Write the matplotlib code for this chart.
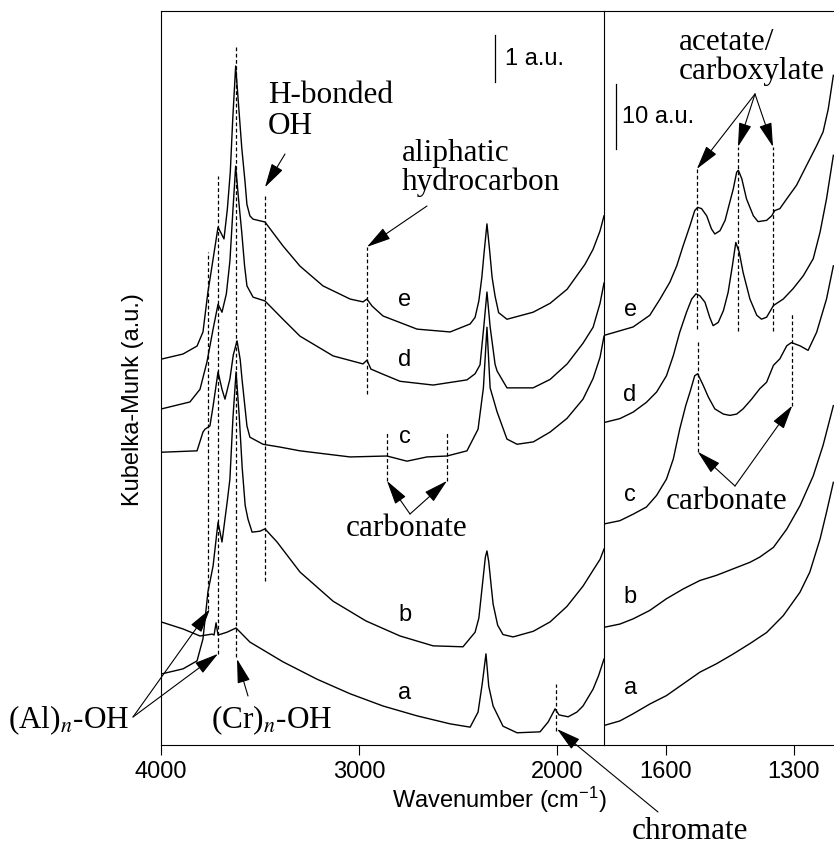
import matplotlib
matplotlib.use("Agg")
import matplotlib.pyplot as plt

# ---- spectra (wavenumber cm-1, Kubelka-Munk a.u.) ----
# high-wavenumber panel
A_LEFT = [(4000, 2.62), (3889, 2.47), (3803, 2.32), (3742, 2.36), (3732, 2.34),
          (3722, 2.60), (3712, 2.34), (3667, 2.40), (3621, 2.49), (3551, 2.19),
          (3384, 1.77), (3212, 1.40), (3045, 1.09), (2879, 0.83), (2707, 0.62),
          (2540, 0.45), (2439, 0.38), (2399, 0.70), (2378, 1.30), (2359, 1.94),
          (2345, 1.25), (2323, 0.83), (2273, 0.40), (2202, 0.26), (2086, 0.28),
          (2045, 0.49), (2010, 0.77), (1990, 0.64), (1944, 0.60), (1900, 0.70),
          (1869, 0.83), (1818, 1.19), (1790, 1.48), (1763, 1.83)]
B_LEFT = [(4000, 1.51), (3889, 1.62), (3818, 1.79), (3788, 2.26), (3763, 3.26),
          (3737, 3.81), (3712, 4.74), (3692, 4.32), (3665, 5.20), (3652, 5.66),
          (3637, 6.94), (3621, 7.94), (3605, 7.00), (3590, 5.90), (3575, 5.10),
          (3561, 4.81), (3540, 4.53), (3500, 4.55), (3475, 4.60), (3414, 4.32),
          (3298, 3.68), (3131, 3.06), (2965, 2.64), (2793, 2.32), (2626, 2.11),
          (2475, 2.09), (2414, 2.40), (2395, 2.70), (2374, 3.53), (2362, 4.00),
          (2354, 4.13), (2345, 3.90), (2333, 3.40), (2323, 3.00), (2300, 2.55),
          (2273, 2.35), (2222, 2.30), (2120, 2.42), (2035, 2.62), (1950, 2.95),
          (1869, 3.38), (1818, 3.72), (1783, 3.95), (1763, 4.17)]
C_LEFT = [(4000, 6.23), (3818, 6.26), (3788, 6.66), (3778, 6.72), (3753, 6.79),
          (3737, 7.21), (3712, 7.94), (3692, 7.57), (3677, 7.36), (3652, 7.79),
          (3635, 8.30), (3616, 8.60), (3600, 8.20), (3591, 7.79), (3566, 6.79),
          (3551, 6.55), (3485, 6.40), (3399, 6.34), (3298, 6.26), (3045, 6.13),
          (2859, 6.15), (2758, 6.04), (2657, 6.13), (2556, 6.15), (2455, 6.26),
          (2399, 6.72), (2372, 7.60), (2354, 8.89), (2338, 7.60), (2303, 7.09),
          (2253, 6.51), (2202, 6.40), (2120, 6.45), (2035, 6.66), (1950, 6.95),
          (1869, 7.36), (1818, 7.80), (1783, 8.25), (1763, 8.70)]
D_LEFT = [(4000, 7.15), (3854, 7.30), (3803, 7.57), (3768, 8.15), (3737, 8.85),
          (3712, 9.38), (3692, 9.21), (3670, 9.60), (3652, 10.30), (3638, 11.30),
          (3623, 12.32), (3608, 11.60), (3592, 10.90), (3578, 10.20), (3566, 9.77),
          (3535, 9.53), (3475, 9.45), (3384, 9.06), (3298, 8.70), (3131, 8.28),
          (2980, 8.11), (2960, 8.19), (2940, 8.00), (2879, 7.89), (2793, 7.74),
          (2626, 7.66), (2455, 7.77), (2414, 7.90), (2389, 8.09), (2370, 8.90),
          (2354, 9.64), (2338, 8.90), (2313, 8.10), (2303, 7.96), (2253, 7.60),
          (2121, 7.60), (2035, 7.78), (1949, 8.11), (1869, 8.55), (1818, 8.89),
          (1783, 9.40), (1763, 9.83)]
E_LEFT = [(4000, 8.21), (3889, 8.32), (3818, 8.49), (3788, 8.79), (3763, 9.64),
          (3737, 10.34), (3712, 11.02), (3682, 10.77), (3665, 11.40), (3650, 12.20),
          (3638, 13.30), (3623, 14.45), (3608, 13.60), (3592, 12.70), (3576, 12.00),
          (3566, 11.50), (3551, 11.26), (3535, 11.19), (3475, 11.13), (3384, 10.62),
          (3298, 10.19), (3182, 9.77), (3045, 9.49), (2980, 9.43), (2960, 9.49),
          (2934, 9.34), (2879, 9.13), (2707, 8.85), (2540, 8.79), (2439, 8.96),
          (2414, 9.10), (2395, 9.45), (2380, 9.95), (2368, 10.50), (2354, 11.09),
          (2340, 10.50), (2328, 9.95), (2313, 9.55), (2295, 9.20), (2253, 9.06),
          (2121, 9.21), (2035, 9.40), (1949, 9.70), (1859, 10.23), (1818, 10.55),
          (1783, 10.94), (1763, 11.26)]

# low-wavenumber panel
A_RIGHT = [(1744, 3.0), (1707, 3.7), (1676, 4.8), (1637, 6.3), (1598, 7.6),
           (1559, 9.4), (1520, 11.2), (1481, 12.5), (1442, 14.0), (1403, 15.6),
           (1364, 17.3), (1325, 19.9), (1286, 23.5), (1263, 26.6), (1239, 31.7),
           (1224, 35.8), (1208, 40.4)]
B_RIGHT = [(1744, 18.1), (1707, 18.6), (1676, 19.4), (1637, 20.7), (1598, 22.5),
           (1559, 24.0), (1520, 25.3), (1481, 26.1), (1442, 27.1), (1403, 28.1),
           (1380, 28.9), (1348, 30.4), (1317, 33.2), (1286, 36.8), (1255, 41.4),
           (1232, 46.1), (1208, 52.2)]
C_RIGHT = [(1744, 34.0), (1707, 34.5), (1676, 35.5), (1645, 36.6), (1621, 38.4),
           (1598, 40.9), (1582, 44.0), (1567, 48.6), (1553, 52.2), (1543, 54.3),
           (1532, 56.8), (1525, 57.1), (1512, 55.3), (1500, 53.5), (1485, 51.7),
           (1465, 50.9), (1450, 50.7), (1434, 50.9), (1419, 51.7), (1399, 53.2),
           (1380, 54.8), (1364, 55.8), (1348, 58.4), (1333, 59.4), (1317, 61.4),
           (1306, 61.9), (1286, 61.4), (1267, 60.7), (1247, 63.5), (1224, 68.6),
           (1208, 73.7)]
D_RIGHT = [(1744, 49.6), (1707, 50.2), (1676, 51.2), (1645, 52.7), (1621, 54.3),
           (1598, 56.8), (1582, 59.9), (1567, 63.5), (1551, 66.6), (1539, 68.6),
           (1529, 69.4), (1520, 69.1), (1508, 68.1), (1497, 65.8), (1489, 64.5),
           (1477, 65.0), (1465, 66.8), (1454, 69.6), (1444, 73.7), (1436, 77.3),
           (1428, 75.8), (1419, 72.7), (1403, 68.6), (1387, 66.1), (1376, 65.5),
           (1364, 65.8), (1348, 67.6), (1325, 68.6), (1302, 70.2), (1278, 72.2),
           (1255, 74.8), (1239, 78.9), (1224, 84.0), (1208, 90.7)]
E_RIGHT = [(1744, 63.0), (1676, 64.3), (1637, 66.1), (1613, 68.6), (1590, 71.2),
           (1574, 73.7), (1559, 76.8), (1543, 79.9), (1532, 82.2), (1525, 82.7),
           (1516, 82.5), (1504, 81.4), (1493, 79.4), (1485, 78.6), (1473, 79.1),
           (1461, 80.7), (1450, 83.5), (1442, 85.5), (1434, 88.1), (1430, 88.4),
           (1422, 87.1), (1411, 84.0), (1395, 81.4), (1384, 80.5), (1364, 80.7),
           (1352, 81.4), (1345, 82.2), (1333, 82.5), (1317, 84.0), (1294, 86.1),
           (1271, 89.1), (1247, 92.2), (1232, 94.3), (1220, 97.8), (1208, 103.0)]

SAMPLES = ["a", "b", "c", "d", "e"]
LEFT_TICKS = [4000, 3000, 2000]
RIGHT_TICKS = [1600, 1300]

W, H = 834, 845
SANS = "Liberation Sans"
SERIF = "Liberation Serif"
plt.rcParams["font.family"] = SANS
plt.rcParams["mathtext.fontset"] = "custom"
plt.rcParams["mathtext.rm"] = SANS
plt.rcParams["mathtext.it"] = SANS + ":italic"


def px(x, y):
    """image pixel (top-left origin) -> figure pixels"""
    return (x, H - y)


fig = plt.figure(figsize=(W / 100, H / 100), dpi=100)
axl = fig.add_axes([161 / W, 1 - 746 / H, 443 / W, 734 / H])
axr = fig.add_axes([604 / W, 1 - 746 / H, 230 / W, 734 / H])
axr.patch.set_visible(False)

for ax, curves in ((axl, [A_LEFT, B_LEFT, C_LEFT, D_LEFT, E_LEFT]),
                   (axr, [A_RIGHT, B_RIGHT, C_RIGHT, D_RIGHT, E_RIGHT])):
    for pts in curves:
        xs, ys = zip(*pts)
        ax.plot(xs, ys, color="k", lw=1.0)
    ax.tick_params(axis="x", direction="out", length=7, width=0.8,
                   labelsize=17, pad=4)
    ax.set_yticks([])
    for s in ax.spines.values():
        s.set_linewidth(0.8)

axl.set_xlim(4000, 1763)
axl.set_ylim(0, 15.62)
axl.set_xticks(LEFT_TICKS)
axr.set_xlim(1744, 1206.5)
axr.set_ylim(0, 112.9)
axr.set_xticks(RIGHT_TICKS)
axr.spines["left"].set_visible(False)
axr.spines["right"].set_visible(False)

# sample letters
for lab, y in zip(SAMPLES, [1.13, 2.79, 6.57, 8.21, 9.49]):
    axl.text(2768, y, lab, fontsize=17, ha="center", va="center")
for lab, y in zip(SAMPLES, [8.9, 22.9, 38.6, 54.0, 67.1]):
    axr.text(1683, y, lab, fontsize=17, ha="center", va="center")

# scale bars
axl.plot([2313, 2313], [14.11, 15.11], color="k", lw=0.9)
axl.text(2263, 14.61, "1 a.u.", fontsize=17, ha="left", va="center")
axr.plot([1716, 1716], [91.7, 101.7], color="k", lw=0.9)
axr.text(1703, 96.7, "10 a.u.", fontsize=17, ha="left", va="center")

dash = dict(color="k", lw=0.9, ls=(0, (3, 2)))
for wn, y0, y1 in [(3763, 2.89, 10.49), (3712, 1.94, 12.11), (3621, 1.87, 14.87),
                   (3475, 3.49, 11.72), (2960, 7.47, 10.60), (2859, 5.62, 6.68),
                   (2556, 5.62, 6.68), (2005, 0.30, 1.30)]:
    axl.plot([wn, wn], [y0, y1], **dash)
for wn, y0, y1 in [(1527, 64.0, 88.6), (1431, 63.7, 92.0), (1349, 63.7, 92.0),
                   (1525, 45.1, 62.0), (1304, 52.2, 66.3)]:
    axr.plot([wn, wn], [y0, y1], **dash)

arrow = dict(arrowstyle="-|>,head_length=0.75,head_width=0.2", color="k",
             lw=0.8, shrinkA=0, shrinkB=0, mutation_scale=20)


def point(ax, xy, start):
    ax.annotate("", xy=xy, xytext=px(*start), textcoords="figure pixels",
                arrowprops=arrow, annotation_clip=False)


point(axl, (3475, 11.87), (285, 155))
point(axl, (2960, 10.60), (427, 207))
point(axl, (2859, 5.62), (410, 515))
point(axl, (2556, 5.62), (410, 515))
point(axl, (3753, 2.89), (133, 718))
point(axl, (3712, 1.94), (133, 718))
point(axl, (3616, 1.83), (248, 697))
point(axl, (2000, 0.34), (658, 813))
for wn, y in [(1527, 88.6), (1431, 92.0), (1349, 92.0)]:
    point(axr, (wn, y), (755, 95))
point(axr, (1525, 45.1), (735, 487))
point(axr, (1304, 52.2), (735, 487))

serif = dict(family=SERIF, fontsize=22.5)
fig.text(268 / W, 1 - 111 / H, "H-bonded\nOH", ha="left", va="center",
         linespacing=1.05, **serif)
fig.text(402 / W, 1 - 168 / H, "aliphatic\nhydrocarbon", ha="left",
         va="center", linespacing=1.0, **serif)
fig.text(679 / W, 1 - 57 / H, "acetate/\ncarboxylate", ha="left",
         va="center", linespacing=0.95, **serif)
fig.text(407 / W, 1 - 529 / H, "carbonate", ha="center", va="center", **serif)
fig.text(727 / W, 1 - 502 / H, "carbonate", ha="center", va="center", **serif)
fig.text(690 / W, 1 - 832 / H, "chromate", ha="center", va="center", **serif)
fig.text(69 / W, 1 - 720 / H, r"(Al)$_{n}$-OH", ha="center", va="center",
         math_fontfamily="stix", **serif)
fig.text(272 / W, 1 - 720 / H, r"(Cr)$_{n}$-OH", ha="center", va="center",
         math_fontfamily="stix", **serif)

fig.text(499 / W, 1 - 800 / H, r"Wavenumber (cm$^{-1}$)", ha="center",
         va="center", fontsize=17)
fig.text(133 / W, 1 - 400 / H, "Kubelka-Munk (a.u.)", ha="center",
         va="center", rotation=90, fontsize=17)

fig.savefig("out.png", dpi=100, facecolor="white")
